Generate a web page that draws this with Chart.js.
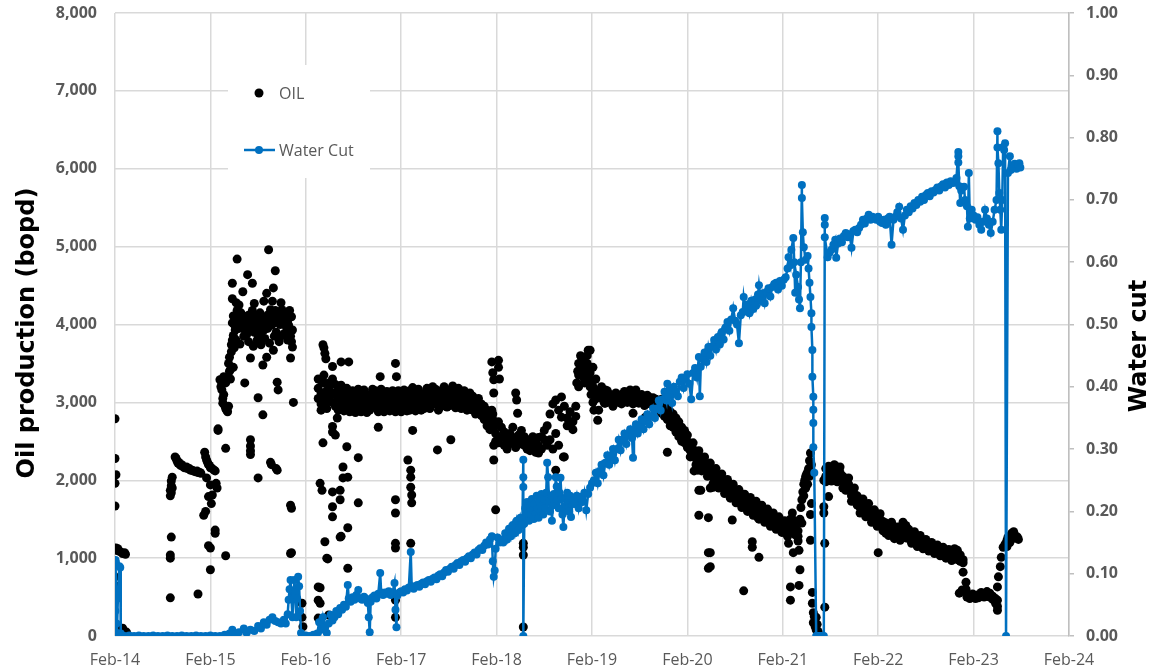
<!DOCTYPE html>
<html>
<head>
<meta charset="utf-8">
<script src="https://cdn.jsdelivr.net/npm/chart.js@4.4.1/dist/chart.umd.min.js"></script>
<style>
  body { margin: 0; background: #fff; }
  #wrap { width: 1153px; height: 670px; }
</style>
</head>
<body>
<div id="wrap"><canvas id="prodChart" width="1153" height="670"></canvas></div>
<script>
// x = years since Feb-14
const yearLabels = ['Feb-14','Feb-15','Feb-16','Feb-17','Feb-18','Feb-19','Feb-20','Feb-21','Feb-22','Feb-23','Feb-24'];

// oil, bopd  [year, value]
const oil2014 = [
  [0.00,2790],[0.00,2280],[0.01,2070],[0.00,1960],[0.00,1670],[0.01,1130],[0.02,1100],[0.03,1120],[0.04,1090],[0.06,1080],
  [0.08,1060],[0.10,1070],[0.11,1050],[0.00,760],[0.01,640],[0.02,120],[0.04,90],[0.06,70],[0.08,100],[0.10,60],[0.12,50],
  [0.58,490],[0.58,1000],[0.58,1040],[0.59,1270],[0.58,1800],[0.58,1870],[0.59,1930],[0.59,1990],[0.60,2040],[0.60,1900],[0.59,1840],
  [0.63,2300],[0.64,2280],[0.65,2250],[0.66,2220],[0.67,2230],[0.68,2200],[0.69,2190],[0.70,2200],[0.72,2170],[0.73,2160],
  [0.75,2170],[0.76,2150],[0.78,2150],[0.79,2130],[0.81,2130],[0.82,2120],[0.84,2110],[0.86,2120],[0.87,2100],[0.89,2100],[0.90,2090],
  [0.87,540],[0.93,1550],[0.94,2360],[0.95,2300],[0.96,2260],[0.97,2230],[0.98,2200],[0.99,2190],[1.00,2160],[1.02,2150],[1.04,2130],[1.05,2120],
  [0.96,2030],[1.00,1940],[0.98,1790],[1.02,1810],[1.01,1700],[0.95,1600],[0.98,1160],[1.00,1130],[1.00,850],[1.05,1360],[1.05,1320],[1.06,1960],[1.07,1900]
];
const oil2015 = [
  [1.08,2660],[1.08,2640],[1.16,2410],[1.16,1030],[1.42,2520],[1.42,2440],[1.42,2380],[1.42,2330],[1.50,2030],[1.55,2840],
  [1.63,2230],[1.64,2200],[1.69,2150],[1.70,2130],[1.84,1680],[1.85,1640],[1.85,1070],[1.84,1060],[1.87,3000],
  [1.10,3290],[1.11,3200],[1.12,3160],[1.13,3050],[1.13,2990],[1.14,3100],[1.15,2960],[1.16,2920],[1.17,2900],[1.18,2880],
  [1.19,2950],[1.12,3250],[1.14,3330],[1.16,3250],[1.18,3330],[1.19,3500],[1.20,3580],[1.21,3420],[1.22,3650],[1.22,3740],
  [1.23,3800],[1.24,3860],[1.25,3700],[1.26,3930],[1.23,4020],[1.24,4110],[1.25,4000],[1.23,4330],[1.23,4530],[1.28,4840],
  [1.27,4280],[1.28,4180],[1.28,4100],[1.29,4030],[1.30,3950],[1.31,4060],[1.32,4150],[1.33,3990],[1.34,4420],[1.35,4050],
  [1.36,3930],[1.37,4100],[1.38,3870],[1.39,4640],[1.39,4000],[1.40,4120],[1.41,3950],[1.42,3570],[1.43,4060],[1.44,4530],
  [1.44,4180],[1.45,3990],[1.46,3900],[1.47,4100],[1.48,4020],[1.49,3950],[1.50,3860],[1.50,3060],[1.51,4080],[1.52,4150],
  [1.53,4000],[1.54,3830],[1.55,3480],[1.56,3930],[1.57,4100],[1.58,4020],[1.59,4400],[1.59,3580],[1.60,3950],[1.61,4960],
  [1.61,4130],[1.62,4060],[1.63,4190],[1.64,3990],[1.65,4100],[1.66,4470],[1.66,3670],[1.67,4020],[1.68,4690],[1.68,4180],
  [1.69,3900],[1.70,4050],[1.70,3260],[1.71,3160],[1.72,4120],[1.73,3840],[1.73,4000],[1.74,4090],[1.75,4190],[1.76,4150],
  [1.77,4060],[1.78,4100],[1.79,3980],[1.80,4130],[1.81,4050],[1.82,3990],[1.83,3930],[1.84,3850],[1.85,3780],[1.86,3710],
  [1.84,3570],[1.83,4180],[1.85,4100],[1.86,3930],[1.20,3400],[1.21,3300],[1.24,3450],[1.36,3250],
  [1.27,3800],[1.31,3750],[1.35,3850],[1.40,3780],[1.45,3720],[1.49,3800],[1.53,3740],[1.57,3820],[1.62,3760],[1.67,3850],
  [1.72,3780],[1.77,3880],[1.81,3800],[1.30,4250],[1.46,4270],[1.56,4300],[1.65,4300],[1.74,4280],
  [1.96,420],[1.96,240],[1.97,120]
];
const oil2016 = [
  [2.13,630],[2.13,460],[2.13,230],[2.15,1960],[2.15,620],[2.15,420],[2.17,1870],[2.18,2480],[2.20,1210],[2.22,1000],
  [2.23,990],[2.24,270],[2.28,2620],[2.28,2690],[2.28,1850],[2.28,1530],[2.28,1660],[2.31,2580],[2.33,2940],[2.33,2800],
  [2.36,1870],[2.36,1750],[2.36,1270],[2.37,1280],[2.39,2170],[2.39,2030],[2.43,2430],[2.44,2040],[2.44,1390],[2.44,870],
  [2.55,2290],[2.55,1710],[2.76,2680],[2.94,1750],[2.94,1580],[2.94,1190],[2.94,1130],[2.94,460],[2.94,240],
  [2.18,3740],[2.19,3700],[2.20,3630],[2.21,3560],[2.28,3460],[2.24,3250],[2.15,3290],[2.37,3520],[2.45,3520],[2.78,3330],
  [2.94,3500],[2.95,3330],[3.07,2260],[3.10,2130],[3.10,2040],[3.10,1910],[3.11,1810],[3.11,1710],[3.10,1190],[3.12,2640],
  [3.38,2390],[3.52,2520]
];
// dense trend band  [year, value, value, ...]
const oilBand16 = [
  [2.13,3050,3180,3300],[2.16,3120,2980,2900],[2.19,3250,3060,3350],[2.22,3150,3000,2920],[2.25,3080,3220,3150],
  [2.28,3300,3000,3100],[2.31,3120,2950,3230],[2.34,3200,3050,2900],[2.37,3100,2960,3220],[2.40,3140,3020,2890],
  [2.43,3060,2950,3180],[2.46,3100,3000,2880],[2.49,3030,2940,3150],[2.52,3080,2990,2870],[2.55,3050,2930,3170],
  [2.58,3110,3000,2880],[2.61,3040,2960,3160],[2.64,3060,2990,2870],[2.67,3020,3100,2900],[2.70,2980,3050,3170],
  [2.73,3070,2950,3150],[2.76,3000,3120,2880],[2.79,3050,2970,3170],[2.82,3080,3000,2880],[2.85,3020,2950,3140],
  [2.88,3060,3110,2890],[2.91,3000,2960,3150],[2.94,3050,3120,2880],[2.97,3000,2940,3150],[3.00,3080,2990,2880],
  [3.03,3040,2960,3160],[3.06,3090,3000,2890],[3.09,3030,3150,2900],[3.12,3060,2980,3190],[3.15,3000,3100,2890],
  [3.18,3050,2950,3170],[3.21,3080,3000,2900],[3.24,3020,3110,2920],[3.27,3070,2990,3180],[3.30,3040,3130,2920],
  [3.33,3000,3080,3200],[3.36,3060,2980,3170],[3.39,3110,3020,2900],[3.42,3040,3150,2950],[3.45,3090,3000,3200],
  [3.48,3130,3050,2940],[3.51,3060,3160,2960],[3.54,3100,3010,3210],[3.57,3040,3120,2930],[3.60,3080,2990,3180],
  [3.63,3020,3100,2920],[3.66,3060,2960,3150],[3.69,3000,3080,2900],[3.72,2950,3040,3120],[3.75,2990,2900,3080],
  [3.78,2930,3020,2850],[3.81,2880,2980,3050],[3.84,2920,2830,2980],[3.87,2860,2950,2780],[3.90,2800,2900,2700],
  [3.93,2850,2760,2650],[3.96,2780,2700,2850]
];
const oil2018 = [
  [3.95,3520],[3.96,3380],[3.97,3290],[3.97,3120],[3.95,2900],[3.97,2670],[3.97,2450],[3.97,2260],[3.99,1620],[4.02,3540],
  [4.02,3450],[4.03,3300],[4.20,3120],[4.21,3030],[4.22,2860],[4.28,1190],[4.28,1140],[4.28,1040],[4.28,115],[4.44,2350],
  [4.62,2130],[4.70,2300],[4.84,3250],[4.85,3400],[4.86,3500],[4.87,3350],[4.88,3600],[4.89,3450],[4.90,3550],[4.91,3400],
  [4.92,3250],[4.93,3500],[4.94,3350],[4.95,3450],[4.96,3670],[4.97,3300],[4.98,3200],[4.99,3100],[5.00,3250],[5.01,3000],
  [5.02,2900],[5.03,3150],[5.04,3050],[5.06,2770],[5.14,3160],[5.14,2990],[5.46,3160],[5.43,2860],[5.56,2810],[5.79,2360]
];
const oilBand18 = [
  [3.99,2600,2500],[4.02,2750,2480],[4.05,2550,2680],[4.08,2450,2620],[4.11,2520,2400],[4.14,2600,2470],[4.17,2550,2680],
  [4.20,2500,2420],[4.23,2580,2460],[4.26,2640,2500],[4.29,2450,2560],[4.32,2400,2520],[4.35,2470,2380],[4.38,2420,2560],
  [4.41,2500,2360],[4.44,2440,2550],[4.47,2560,2400],[4.50,2520,2640],[4.53,2700,2450],[4.56,2850,2520],[4.59,2980,2400],
  [4.62,3030,2600],[4.65,2900,2450],[4.68,3070,2810],[4.71,2950,2300],[4.74,2800,2700],[4.77,2880,2720],[4.80,2750,2650],
  [4.83,2820,2950],[4.86,3200,3350],[4.89,3450,3580],[4.92,3400,3300],[4.95,3600,3500],[4.98,3670,3380],[5.01,3450,3200],
  [5.04,3300,3050],[5.07,2900,3150],[5.10,3050,3200],[5.13,3100,2990],[5.16,3060,3150],[5.19,3000,3100],[5.22,3080,2950],
  [5.25,3120,3020],[5.28,3050,3000],[5.31,3100,2980],[5.34,3060,3140],[5.37,3000,3080],[5.40,3040,3160],[5.43,3090,2980],
  [5.46,3030,3100],[5.49,3070,2990],[5.52,3050,3100],[5.55,3080,2960],[5.58,3020,3090],[5.61,3060,2980],[5.64,3000,3060],
  [5.67,2960,3040],[5.70,2900,3010],
  [5.73,2950,3040,2860],[5.76,2900,2980,2820],[5.79,2860,2780,2950],[5.82,2880,2800,2700],[5.85,2780,2850,2680],
  [5.88,2720,2800,2620],[5.91,2750,2650,2560],[5.94,2680,2600,2500],[5.97,2560,2480,2640],[6.00,2500,2420,2580],
  [6.03,2450,2380,2300],[6.06,2400,2320,2480],[6.09,2350,2280,2200],[6.12,2320,2250,2380],[6.15,2270,2200,2120],
  [6.18,2220,2150,2300],[6.21,2180,2120,2050],[6.24,2150,2080,2220],[6.27,2100,2040,1960],[6.30,2070,2000,2150],
  [6.33,2030,1970,1900],[6.36,1990,1940,2080],[6.39,1960,1900,1830],[6.42,1930,1870,2010],[6.45,1900,1840,1770],
  [6.48,1860,1810,1950],[6.51,1830,1780,1710],[6.54,1800,1750,1880],[6.57,1770,1720,1650],[6.60,1740,1700,1820],
  [6.63,1720,1670,1600],[6.66,1700,1640,1780],[6.69,1680,1620,1550],[6.72,1650,1600,1730],[6.75,1620,1570,1500],
  [6.78,1600,1550,1680],[6.81,1580,1520,1460],[6.84,1550,1500,1630],[6.87,1520,1480,1410],[6.90,1500,1450,1580],
  [6.93,1470,1430,1370],[6.96,1450,1410,1530],[6.99,1420,1390,1330],[7.02,1400,1360,1480],[7.05,1380,1330,1280],
  [7.08,1500,1420,1350],[7.10,1580,1500,1440],[7.13,1400,1300,1460],[7.16,1280,1220,1350]
];
const oil2021 = [
  [6.07,2120],[6.11,2130],[6.12,1870],[6.12,1550],[6.14,1870],[6.22,1520],[6.22,1070],[6.22,870],[6.24,1900],[6.24,1070],
  [6.24,890],[6.27,1910],[6.47,1490],[6.59,580],[6.68,1210],[6.68,1140],[6.75,1010],[6.74,1520],[7.03,1320],[7.06,1190],
  [7.11,1070],[7.17,1100],[7.18,850],[7.17,650],[7.08,630],[7.08,460],[7.29,1230],
  [7.18,1500],[7.19,1650],[7.20,1750],[7.21,1850],[7.22,1950],[7.23,2000],[7.24,2050],[7.25,2080],[7.26,2100],[7.27,2150],
  [7.28,2250],[7.29,2350],[7.20,1450],[7.22,1800],[7.24,1900],[7.26,1950],[7.28,2050],[7.30,2200],[7.30,1700],[7.29,1560],
  [7.31,560],[7.31,420],[7.32,300],[7.32,170],[7.33,250],[7.34,120],[7.35,80],[7.35,240],[7.36,150],[7.37,60],
  [7.43,1660],[7.43,1580],[7.44,1190],[7.44,370],[7.43,2000],[7.48,1790],[8.00,1070]
];
const oilBand21 = [
  [7.45,2050,2150,1980],[7.48,2100,2000,2180],[7.51,2150,2080,1990],[7.54,2120,2200,2030],[7.57,2170,2060,1980],
  [7.60,2100,2020,2170],[7.63,2050,1980,1900],[7.66,1950,2020,1870],[7.69,1870,1950,2030],[7.72,1800,1880,1730],
  [7.75,1750,1820,1900],[7.78,1720,1680,1800],[7.81,1650,1720,1580],[7.84,1620,1680,1760],[7.87,1600,1650,1530],
  [7.90,1560,1620,1700],[7.93,1520,1580,1460],[7.96,1490,1550,1620],[7.99,1460,1520,1410],[8.02,1430,1500,1570],
  [8.05,1400,1470,1350],[8.08,1370,1320,1450],[8.11,1350,1420,1290],[8.14,1330,1390,1460],[8.17,1300,1370,1250],
  [8.20,1320,1280,1400],[8.23,1350,1290,1230],[8.26,1400,1300,1460],[8.29,1420,1330,1260],[8.32,1300,1250,1370],
  [8.35,1280,1230,1190],[8.38,1300,1220,1340],[8.41,1260,1200,1150],[8.44,1230,1180,1290],[8.47,1210,1160,1120],
  [8.50,1190,1140,1240],[8.53,1170,1130,1090],[8.56,1150,1110,1200],[8.59,1140,1100,1060],[8.62,1120,1080,1170],
  [8.65,1100,1070,1030],[8.68,1090,1050,1140],[8.71,1070,1040,1000],[8.74,1060,1020,1110],[8.77,1040,1000,970],
  [8.80,1120,1000,1060],[8.83,1050,980,1100],[8.86,1000,960,1040],[8.89,980,820,940],
  [8.92,690,600],[8.93,530,500],[8.96,510,480],[8.99,500,540],[9.02,520,480],[9.05,490,530],[9.08,510,560],[9.11,540,500],
  [9.14,520,570],[9.17,550,500],[9.20,510,470],[9.23,480,420],[9.25,380,330]
];
const oil2023 = [
  [8.85,550],[8.88,590],[9.25,460],[9.25,630],[9.26,760],[9.28,890],[9.29,1010],[9.31,1140],[9.33,1180],[9.35,1230],
  [9.36,1270],[9.38,1280],[9.40,1320],[9.42,1340],[9.43,1300],[9.45,1260],[9.46,1270],[9.47,1240],[9.35,1150],[9.38,1200],[9.41,1250]
];

// water cut, fraction  [year, value] in time order
const wc2014 = [
  [0.000,0.000],[0.003,0.040],[0.005,0.122],[0.010,0.118],[0.015,0.020],[0.020,0.005],[0.030,0.060],[0.045,0.112],
  [0.055,0.110],[0.060,0.004],[0.070,0.000],[0.10,0.000],[0.15,0.001],[0.20,0.000],[0.25,0.001],[0.30,0.000],[0.35,0.000],
  [0.40,0.001],[0.45,0.000],[0.50,0.000],[0.55,0.001],[0.60,0.000],[0.65,0.000],[0.70,0.001],[0.75,0.000],[0.80,0.000],
  [0.85,0.001],[0.90,0.000],[0.95,0.000],[1.00,0.001],[1.05,0.000]
];
const wc2015 = [
  [1.10,0.000],[1.15,0.002],[1.20,0.004],[1.23,0.010],[1.26,0.003],[1.30,0.006],[1.35,0.012],[1.38,0.005],[1.42,0.010],
  [1.46,0.008],[1.50,0.016],[1.53,0.012],[1.56,0.022],[1.59,0.018],[1.62,0.026],[1.65,0.030],[1.68,0.024],[1.71,0.022],
  [1.74,0.020],[1.77,0.026],[1.79,0.020],[1.81,0.035],[1.82,0.058],[1.83,0.075],[1.84,0.090],[1.85,0.060],[1.86,0.030],
  [1.87,0.060],[1.88,0.090],[1.89,0.070],[1.90,0.030],[1.91,0.060],[1.92,0.095],[1.93,0.080],[1.94,0.040],[1.95,0.005],
  [1.97,0.000],[2.00,0.001],[2.04,0.000],[2.08,0.002]
];
const wc2016 = [
  [2.12,0.004],[2.14,0.022],[2.16,0.010],[2.18,0.030],[2.20,0.015],[2.22,0.005],[2.24,0.020],[2.26,0.034],[2.28,0.025],
  [2.30,0.030],[2.32,0.040],[2.34,0.035],[2.36,0.045],[2.38,0.042],[2.40,0.050],[2.42,0.047],[2.44,0.082],[2.45,0.060],
  [2.47,0.055],[2.49,0.062],[2.51,0.058],[2.53,0.066],[2.55,0.074],[2.57,0.060],[2.59,0.058],[2.61,0.063],[2.63,0.060],
  [2.65,0.053],[2.66,0.030],[2.67,0.006],[2.68,0.055],[2.70,0.062],[2.72,0.065],[2.74,0.060],[2.76,0.068],[2.78,0.101],
  [2.79,0.070],[2.81,0.066],[2.83,0.070],[2.85,0.068],[2.87,0.072],[2.89,0.066],[2.91,0.070],[2.93,0.085],[2.94,0.042],
  [2.95,0.014],[2.96,0.065],[2.98,0.070]
];
const wc2017 = [
  [3.00,0.072],[3.02,0.070],[3.04,0.075],[3.06,0.073],[3.08,0.078],[3.10,0.135],[3.11,0.080],[3.13,0.076],[3.15,0.080],
  [3.17,0.082],[3.19,0.079],[3.21,0.084],[3.23,0.086],[3.25,0.083],[3.27,0.088],[3.29,0.090],[3.31,0.087],[3.33,0.092],
  [3.35,0.094],[3.37,0.091],[3.39,0.097],[3.41,0.099],[3.43,0.096],[3.45,0.102],[3.47,0.106],[3.49,0.103],[3.51,0.108],
  [3.53,0.111],[3.55,0.108],[3.57,0.114],[3.59,0.117],[3.61,0.114],[3.63,0.120],[3.65,0.122],[3.67,0.119],[3.69,0.125],
  [3.71,0.128],[3.73,0.125],[3.75,0.131],[3.77,0.134],[3.79,0.131],[3.81,0.138],[3.83,0.141],[3.85,0.138],[3.87,0.145],
  [3.89,0.150],[3.91,0.147],[3.93,0.155],[3.95,0.160],[3.96,0.120],[3.97,0.095],[3.98,0.105],[3.99,0.140],[4.01,0.158],
  [4.03,0.150],[4.05,0.155]
];
const wc2018 = [
  [4.07,0.150],[4.09,0.165],[4.11,0.155],[4.13,0.172],[4.15,0.160],[4.17,0.178],[4.19,0.165],[4.21,0.185],[4.23,0.170],
  [4.25,0.190],[4.27,0.178],[4.28,0.283],[4.28,0.255],[4.28,0.239],[4.28,0.000],[4.29,0.180],[4.30,0.205],[4.31,0.191],
  [4.32,0.215],[4.33,0.198],[4.34,0.185],[4.35,0.210],[4.36,0.195],[4.37,0.220],[4.38,0.202],[4.39,0.188],[4.40,0.212],
  [4.41,0.197],[4.42,0.225],[4.43,0.205],[4.44,0.190],[4.45,0.215],[4.46,0.200],[4.47,0.228],[4.48,0.210],[4.49,0.195],
  [4.50,0.220],[4.51,0.205],[4.52,0.230],[4.53,0.278],[4.54,0.255],[4.55,0.215],[4.56,0.200],[4.57,0.225],[4.58,0.185],
  [4.59,0.210],[4.60,0.228],[4.61,0.212],[4.62,0.255],[4.63,0.240],[4.64,0.218],[4.65,0.205],[4.66,0.230],[4.67,0.254],
  [4.68,0.220],[4.69,0.195],[4.70,0.175],[4.71,0.205],[4.72,0.222],[4.73,0.210],[4.74,0.230],[4.75,0.215],[4.76,0.200],
  [4.77,0.225],[4.78,0.191],[4.79,0.212],[4.80,0.218],[4.82,0.212],[4.84,0.225],[4.86,0.205],[4.88,0.223],[4.90,0.215],
  [4.92,0.230],[4.94,0.202],[4.96,0.228],[4.98,0.238],[5.00,0.245]
];
const wc2019 = [
  [5.02,0.250],[5.04,0.262],[5.06,0.245],[5.08,0.265],[5.10,0.275],[5.12,0.258],[5.14,0.278],[5.16,0.290],[5.18,0.275],
  [5.20,0.290],[5.22,0.300],[5.24,0.282],[5.26,0.300],[5.28,0.315],[5.30,0.298],[5.32,0.315],[5.34,0.325],[5.36,0.308],
  [5.38,0.322],[5.40,0.332],[5.42,0.318],[5.43,0.286],[5.44,0.330],[5.46,0.340],[5.48,0.325],[5.50,0.338],[5.52,0.348],
  [5.54,0.332],[5.56,0.345],[5.58,0.356],[5.60,0.340],[5.62,0.352],[5.64,0.365],[5.66,0.350],[5.68,0.365],[5.70,0.378],
  [5.72,0.362],[5.74,0.380],[5.76,0.392],[5.78,0.378],[5.79,0.405],[5.80,0.385],[5.82,0.395],[5.84,0.374],[5.86,0.400],
  [5.88,0.392],[5.90,0.385],[5.92,0.408],[5.94,0.415],[5.96,0.398],[5.98,0.412]
];
const wc2020 = [
  [6.00,0.420],[6.02,0.405],[6.04,0.380],[6.06,0.422],[6.08,0.430],[6.10,0.415],[6.12,0.448],[6.13,0.385],[6.14,0.432],
  [6.16,0.445],[6.18,0.455],[6.20,0.440],[6.22,0.464],[6.24,0.450],[6.26,0.465],[6.28,0.475],[6.30,0.460],[6.32,0.480],
  [6.34,0.468],[6.36,0.488],[6.38,0.476],[6.40,0.495],[6.42,0.504],[6.44,0.490],[6.46,0.508],[6.48,0.526],[6.50,0.506],
  [6.52,0.500],[6.54,0.470],[6.56,0.515],[6.58,0.520],[6.59,0.544],[6.61,0.522],[6.63,0.532],[6.65,0.518],[6.67,0.538],
  [6.69,0.525],[6.71,0.540],[6.72,0.530],[6.74,0.548],[6.75,0.563],[6.77,0.538],[6.79,0.550],[6.81,0.534],[6.83,0.552],
  [6.85,0.558],[6.87,0.545],[6.89,0.560],[6.91,0.565],[6.93,0.567],[6.95,0.556],[6.97,0.570],[6.99,0.562]
];
const wc2021 = [
  [7.01,0.572],[7.03,0.576],[7.05,0.590],[7.06,0.608],[7.08,0.595],[7.09,0.620],[7.11,0.639],[7.12,0.600],[7.13,0.551],
  [7.14,0.580],[7.16,0.560],[7.17,0.540],[7.18,0.526],[7.19,0.600],[7.20,0.724],[7.20,0.703],[7.21,0.648],[7.22,0.624],
  [7.24,0.604],[7.26,0.610],[7.27,0.590],[7.28,0.567],[7.29,0.544],[7.30,0.518],[7.30,0.496],[7.31,0.459],[7.31,0.416],
  [7.32,0.384],[7.32,0.363],[7.32,0.342],[7.32,0.303],[7.33,0.262],[7.35,0.000],[7.36,0.000],[7.37,0.000],[7.38,0.000],
  [7.39,0.000],[7.40,0.000],[7.41,0.000],[7.42,0.000],[7.43,0.000],[7.44,0.671],[7.44,0.660],[7.44,0.640],[7.47,0.608],
  [7.49,0.615],[7.51,0.620],[7.53,0.628],[7.55,0.636],[7.56,0.607],[7.58,0.630],[7.60,0.638],[7.62,0.632],[7.64,0.642],
  [7.66,0.647],[7.68,0.640],[7.70,0.645],[7.72,0.623],[7.74,0.650],[7.76,0.652],[7.78,0.648],[7.80,0.655],[7.82,0.660],
  [7.84,0.668],[7.86,0.662],[7.88,0.670],[7.90,0.676],[7.92,0.668],[7.94,0.673],[7.96,0.670],[7.98,0.668]
];
const wc2022 = [
  [8.00,0.673],[8.02,0.665],[8.04,0.663],[8.06,0.668],[8.08,0.660],[8.10,0.670],[8.12,0.673],[8.14,0.628],[8.16,0.668],
  [8.18,0.673],[8.20,0.680],[8.22,0.689],[8.24,0.670],[8.26,0.652],[8.28,0.675],[8.30,0.684],[8.32,0.680],[8.34,0.690],
  [8.36,0.686],[8.38,0.695],[8.40,0.692],[8.42,0.700],[8.44,0.697],[8.46,0.705],[8.48,0.700],[8.50,0.708],[8.52,0.711],
  [8.54,0.706],[8.56,0.714],[8.58,0.712],[8.60,0.716],[8.62,0.720],[8.64,0.715],[8.66,0.722],[8.68,0.725],[8.70,0.720],
  [8.72,0.728],[8.74,0.724],[8.76,0.730],[8.78,0.727],[8.80,0.728],[8.82,0.735],[8.84,0.777],[8.84,0.770],[8.84,0.760],
  [8.85,0.722],[8.86,0.695],[8.87,0.715],[8.88,0.720],[8.90,0.721],[8.91,0.700],[8.93,0.690],[8.94,0.657],[8.95,0.743],
  [8.96,0.670],[8.98,0.684]
];
const wc2023 = [
  [9.00,0.675],[9.02,0.668],[9.04,0.672],[9.06,0.660],[9.08,0.652],[9.10,0.665],[9.12,0.684],[9.14,0.670],[9.16,0.660],
  [9.18,0.647],[9.20,0.665],[9.22,0.684],[9.24,0.700],[9.25,0.810],[9.25,0.784],[9.26,0.759],[9.27,0.711],[9.28,0.684],
  [9.29,0.652],[9.30,0.700],[9.31,0.785],[9.32,0.780],[9.33,0.791],[9.34,0.000],[9.36,0.743],[9.38,0.770],[9.39,0.748],
  [9.41,0.753],[9.43,0.758],[9.45,0.750],[9.47,0.756],[9.48,0.759],[9.49,0.752]
];

const pairs = rows => rows.map(r => ({ x: r[0], y: r[1] }));
const band = rows => rows.flatMap(r => r.slice(1).map(v => ({ x: r[0], y: v })));

const oilPoints = [
  ...pairs(oil2014), ...pairs(oil2015), ...pairs(oil2016), ...band(oilBand16),
  ...pairs(oil2018), ...band(oilBand18), ...pairs(oil2021), ...band(oilBand21), ...pairs(oil2023)
];
const wcPoints = pairs([...wc2014, ...wc2015, ...wc2016, ...wc2017, ...wc2018, ...wc2019, ...wc2020, ...wc2021, ...wc2022, ...wc2023]);

const BLUE = '#0070c0';
const GRID = '#d9d9d9';
const LABEL = '#595959';

// axis titles (both read bottom-to-top) and the boxed legend
const extras = {
  id: 'extras',
  afterDraw(chart) {
    const c = chart.ctx;
    c.save();
    c.fillStyle = '#000';
    c.font = "bold 24px 'DejaVu Sans'";
    c.textAlign = 'center';
    c.textBaseline = 'middle';
    c.translate(28, 333);
    c.rotate(-Math.PI / 2);
    c.fillText('Oil production (bopd)', 0, 0);
    c.restore();

    c.save();
    c.fillStyle = '#000';
    c.font = "bold 24px 'DejaVu Sans'";
    c.textAlign = 'center';
    c.textBaseline = 'middle';
    c.translate(1140, 346);
    c.rotate(-Math.PI / 2);
    c.fillText('Water cut', 0, 0);
    c.restore();

    c.save();
    c.fillStyle = '#fff';
    c.fillRect(228, 65, 142, 113);
    c.fillStyle = '#000';
    c.beginPath(); c.arc(259, 93, 4.5, 0, Math.PI * 2); c.fill();
    c.strokeStyle = BLUE; c.lineWidth = 2.5;
    c.beginPath(); c.moveTo(244, 150); c.lineTo(275, 150); c.stroke();
    c.fillStyle = BLUE;
    c.beginPath(); c.arc(259, 150, 4, 0, Math.PI * 2); c.fill();
    c.fillStyle = LABEL;
    c.font = "16px 'Open Sans'";
    c.textAlign = 'left';
    c.textBaseline = 'middle';
    c.fillText('OIL', 279, 94);
    c.fillText('Water Cut', 279, 151);
    c.restore();
  }
};

Chart.defaults.font.family = "'Open Sans', sans-serif";

// fix the plot box: no extra room for the end tick labels
const fitY = w => s => { s.width = w; s.paddingTop = 0; s.paddingBottom = 0; };

new Chart(document.getElementById('prodChart'), {
  type: 'scatter',
  data: {
    datasets: [
      {
        label: 'Water Cut', data: wcPoints, yAxisID: 'y1', showLine: true, order: 0,
        borderColor: BLUE, backgroundColor: BLUE, borderWidth: 2.5,
        pointRadius: 4, pointBorderWidth: 0, pointBackgroundColor: BLUE, tension: 0
      },
      {
        label: 'OIL', data: oilPoints, yAxisID: 'y', order: 1,
        backgroundColor: '#000', pointRadius: 4.5, pointBorderWidth: 0
      }
    ]
  },
  options: {
    responsive: false,
    animation: false,
    layout: { padding: { top: 13, right: 0, bottom: 0, left: 0 } },
    plugins: { legend: { display: false }, tooltip: { enabled: false } },
    scales: {
      x: {
        type: 'linear', min: 0, max: 10,
        afterFit: s => { s.height = 34; s.paddingLeft = 0; s.paddingRight = 0; },
        ticks: { stepSize: 1, padding: 15, color: LABEL, font: { size: 16 }, maxRotation: 0,
                 callback: v => yearLabels[v] },
        grid: { color: GRID, lineWidth: 1.5, drawTicks: false },
        border: { display: false }
      },
      y: {
        position: 'left', min: 0, max: 8000,
        afterFit: fitY(115),
        ticks: { stepSize: 1000, padding: 18, color: LABEL, font: { size: 16, weight: 'bold' },
                 callback: v => v.toLocaleString('en-US') },
        grid: { color: GRID, lineWidth: 1.5, drawTicks: false },
        border: { display: false }
      },
      y1: {
        position: 'right', min: 0, max: 1,
        afterFit: fitY(84),
        ticks: { stepSize: 0.1, padding: 12, color: LABEL, font: { size: 16, weight: 'bold' },
                 callback: v => v.toFixed(2) },
        grid: { drawOnChartArea: false, color: '#bfbfbf', tickLength: 5, lineWidth: 1.5 },
        border: { display: true, color: '#bfbfbf', width: 1.5 }
      }
    }
  },
  plugins: [extras]
});
</script>
</body>
</html>
